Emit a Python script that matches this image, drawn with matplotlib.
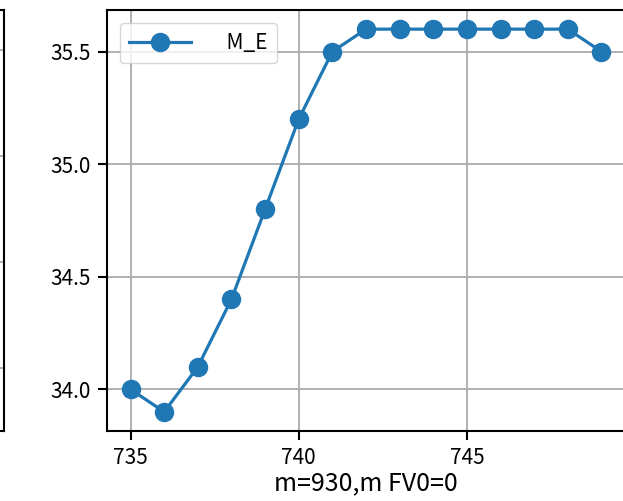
import matplotlib
matplotlib.use("Agg")
import matplotlib.pyplot as plt

plt.rcParams['font.family'] = ['Noto Sans CJK SC', 'DejaVu Sans']
plt.rcParams['axes.unicode_minus'] = False

x_vals = [735, 736, 737, 738, 739, 740, 741, 742, 743, 744, 745, 746, 747, 748, 749]
m_e = [34.0, 33.9, 34.1, 34.4, 34.8, 35.2, 35.5, 35.6, 35.6, 35.6, 35.6, 35.6, 35.6, 35.6, 35.5]
series_label = "    M_E"
x_label = "m=930,m FV0=0"
x_ticks = [735, 740, 745]
y_ticks = [34.0, 34.5, 35.0, 35.5]
left_ticks = [0, 1, 2, 3]

W, H = 623, 501
fig = plt.figure(figsize=(W / 100, H / 100), dpi=100)

spine_w = 1.5
grid_kw = dict(color='#b0b0b0', linewidth=1.4)

# neighbouring panel (only its right edge is visible)
ax0 = fig.add_axes([-0.5, 1 - 431 / H, 0.5 + 4 / W, 421 / H])
ax0.set_ylim(-0.594, 3.38)
ax0.set_yticks(left_ticks)
ax0.set_xticks([])
ax0.tick_params(labelleft=False, left=False)
ax0.grid(True, axis='y', **grid_kw)
for s in ax0.spines.values():
    s.set_linewidth(spine_w)

ax = fig.add_axes([107 / W, 1 - 431 / H, (625 - 107) / W, 421 / H])
ax.plot(x_vals, m_e, marker='o', color='#1f77b4', linewidth=2.3, markersize=13, label=series_label)
ax.set_xticks(x_ticks)
ax.set_yticks(y_ticks)
ax.set_yticklabels([f"{v:.1f}" for v in y_ticks])
ax.tick_params(labelsize=15, length=6.5, width=1.5, pad=5)
ax.grid(True, **grid_kw)
for s in ax.spines.values():
    s.set_linewidth(spine_w)
ax.set_xlabel(x_label, fontsize=18, labelpad=1)
ax.legend(loc='upper left', fontsize=15, handlelength=3.0, borderaxespad=0.6,
          borderpad=0.45, handletextpad=0.8)

fig.savefig("out.png", dpi=100)
